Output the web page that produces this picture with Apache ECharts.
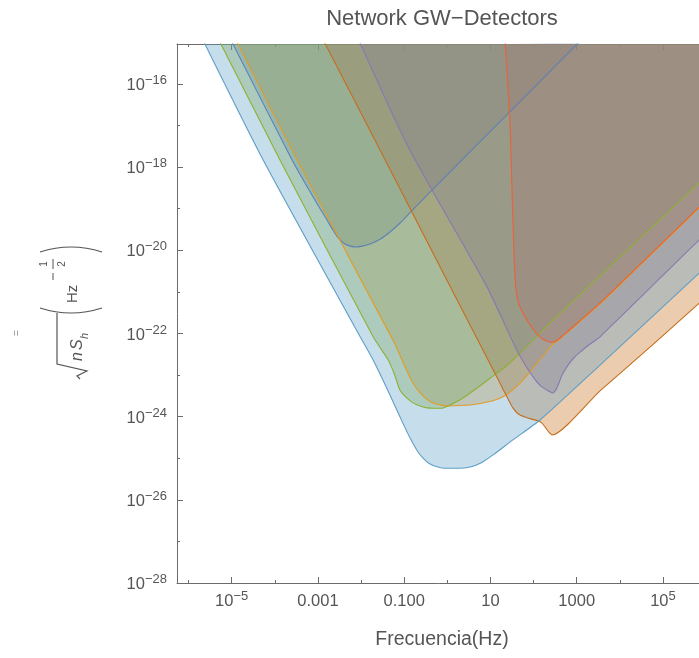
<!DOCTYPE html>
<html>
<head>
<meta charset="utf-8">
<script src="https://cdn.jsdelivr.net/npm/echarts@6/dist/echarts.min.js"></script>
<style>
  html, body { margin: 0; padding: 0; background: #ffffff; }
  #chart { width: 699px; height: 658px; }
</style>
</head>
<body>
<div id="chart"></div>
<script>
// Sensitivity curves, stored as [log10 f (Hz), log10 sqrt(n S_h) (Hz^-1/2)]
const curveBlue = [
  [-4.99, -15.0], [-3.60, -17.83], [-3.18, -18.60], [-2.95, -19.00], [-2.79, -19.27],
  [-2.66, -19.50], [-2.56, -19.66], [-2.46, -19.78], [-2.37, -19.85], [-2.25, -19.90],
  [-2.14, -19.92], [-1.97, -19.90], [-1.79, -19.85], [-1.55, -19.73], [-1.33, -19.56],
  [-1.10, -19.35], [-0.87, -19.10], [-0.17, -18.36], [1.45, -16.67], [3.05, -15.0]
];
const curveOrange = [
  [-4.87, -15.0], [-3.48, -17.83], [-1.26, -22.16], [-1.05, -22.64], [-0.87, -23.05],
  [-0.74, -23.28], [-0.63, -23.43], [-0.48, -23.58], [-0.33, -23.67], [-0.16, -23.72],
  [0.00, -23.74], [0.53, -23.72], [1.06, -23.62], [1.33, -23.50], [1.57, -23.31],
  [1.80, -23.07], [1.99, -22.83], [2.20, -22.56], [2.38, -22.33], [2.52, -22.20],
  [2.78, -21.98], [3.54, -21.29], [4.31, -20.52], [5.84, -18.98], [6.20, -18.62]
];
const curveGreen = [
  [-5.27, -15.0], [-3.88, -17.83], [-1.72, -22.08], [-1.37, -22.64], [-1.22, -23.00],
  [-1.10, -23.36], [-0.96, -23.53], [-0.82, -23.65], [-0.65, -23.74], [-0.47, -23.79],
  [-0.28, -23.80], [-0.10, -23.79], [0.20, -23.65], [0.53, -23.43], [1.00, -23.07],
  [1.45, -22.71], [2.45, -21.68], [5.84, -18.38], [6.20, -18.03]
];
const curveRed = [
  [1.34, -15.0], [1.45, -16.87], [1.50, -18.55], [1.55, -20.23], [1.58, -20.80],
  [1.61, -21.10], [1.66, -21.30], [1.75, -21.50], [1.87, -21.72], [2.00, -21.91],
  [2.10, -22.04], [2.22, -22.14], [2.34, -22.20], [2.43, -22.21], [2.52, -22.18],
  [2.65, -22.08], [2.78, -21.96], [3.54, -21.27], [4.31, -20.50], [5.84, -18.96],
  [6.20, -18.60]
];
const curvePurple = [
  [-2.03, -15.0], [-0.87, -17.59], [0.92, -20.88], [1.61, -22.40], [1.85, -22.83],
  [2.08, -23.17], [2.20, -23.29], [2.31, -23.36], [2.39, -23.41], [2.45, -23.43],
  [2.50, -23.38], [2.54, -23.31], [2.60, -23.16], [2.66, -23.00], [2.75, -22.84],
  [2.85, -22.69], [2.96, -22.56], [3.08, -22.45], [3.30, -22.26], [3.54, -22.08],
  [5.84, -19.75], [6.20, -19.40]
];
const curveBrown = [
  [-2.85, -15.0], [-1.56, -17.59], [0.06, -20.86], [1.22, -23.19], [1.31, -23.38],
  [1.40, -23.56], [1.52, -23.79], [1.64, -23.93], [1.80, -24.01], [1.96, -24.06],
  [2.10, -24.10], [2.20, -24.16], [2.28, -24.27], [2.36, -24.38], [2.43, -24.44],
  [3.54, -23.38], [4.70, -22.33], [5.84, -21.27], [6.20, -20.94]
];
const curveLightBlue = [
  [-5.64, -15.0], [-4.27, -17.83], [-2.07, -21.99], [-1.72, -22.64], [-1.33, -23.48],
  [-0.98, -24.27], [-0.82, -24.60], [-0.68, -24.85], [-0.54, -25.02], [-0.40, -25.14],
  [-0.22, -25.21], [-0.05, -25.24], [0.25, -25.24], [0.53, -25.21], [0.80, -25.10],
  [1.06, -24.92], [1.52, -24.56], [2.15, -24.08], [3.54, -22.76], [5.84, -20.55],
  [6.20, -20.20]
];

const curves = [curveBlue, curveOrange, curveGreen, curveRed, curvePurple, curveBrown, curveLightBlue];
const curveColors = ['#5E81B5', '#E19C24', '#8FB032', '#EB6235', '#8778B3', '#C56E1A', '#5D9EC7'];

// Axis ticks (exponents) and their labels
const xMajorTicks = [-5, -3, -1, 1, 3, 5];
const xMajorLabels = ['10^\u22125', '0.001', '0.100', '10', '1000', '10^5'];
const xMinorTicks = [-6, -4, -2, 0, 2, 4, 6];
const yMajorTicks = [-28, -26, -24, -22, -20, -18, -16];
const yMajorLabels = ['10^\u221228', '10^\u221226', '10^\u221224', '10^\u221222', '10^\u221220', '10^\u221218', '10^\u221216'];
const yMinorTicks = [-27, -25, -23, -21, -19, -17, -15];

const X_MIN = -6.268, X_MAX = 6.16;
const Y_MIN = -28, Y_MAX = -15.04;

const FONT = '"Liberation Sans", Arial, sans-serif';
const TEXT_COLOR = '#555555';
const FRAME_COLOR = '#6b6b6b';

function toRich(s) {
  const k = s.indexOf('^');
  if (k < 0) return '{b|' + s + '}';
  return '{b|' + s.slice(0, k) + '}{s|' + s.slice(k + 1) + '}';
}
function labelFor(ticks, labels) {
  return function (v) {
    for (let i = 0; i < ticks.length; i++) {
      if (Math.abs(ticks[i] - v) < 1e-6) return toRich(labels[i]);
    }
    return '';
  };
}
const richStyles = {
  b: { fontSize: 16.5, fontFamily: FONT, color: TEXT_COLOR, lineHeight: 20, verticalAlign: 'bottom' },
  s: { fontSize: 13, fontFamily: FONT, color: TEXT_COLOR, lineHeight: 13, verticalAlign: 'top' }
};

function xAxisDef(position, ticks, len, showLine, showLabel) {
  return {
    type: 'value', position: position, min: X_MIN, max: X_MAX,
    axisLine: { show: showLine, onZero: false, lineStyle: { color: FRAME_COLOR, width: 1 } },
    axisTick: { show: true, inside: true, length: len, customValues: ticks, lineStyle: { color: FRAME_COLOR, width: 1 } },
    axisLabel: showLabel ? {
      show: true, customValues: xMajorTicks, margin: 7,
      formatter: labelFor(xMajorTicks, xMajorLabels), rich: richStyles
    } : { show: false },
    splitLine: { show: false }
  };
}
function yAxisDef(ticks, len, showLine, showLabel) {
  return {
    type: 'value', position: 'left', min: Y_MIN, max: Y_MAX,
    axisLine: { show: showLine, onZero: false, lineStyle: { color: FRAME_COLOR, width: 1 } },
    axisTick: { show: true, inside: true, length: len, customValues: ticks, lineStyle: { color: FRAME_COLOR, width: 1 } },
    axisLabel: showLabel ? {
      show: true, customValues: yMajorTicks, margin: 10,
      formatter: labelFor(yMajorTicks, yMajorLabels), rich: richStyles
    } : { show: false },
    splitLine: { show: false }
  };
}

const series = curves.map(function (data, i) {
  return {
    type: 'line',
    xAxisIndex: 0, yAxisIndex: 0,
    data: data,
    symbol: 'none',
    smooth: 0.2,
    clip: true,
    silent: true,
    lineStyle: { color: curveColors[i], width: 1.1 },
    areaStyle: { color: curveColors[i], opacity: 0.35, origin: 'end' }
  };
});

// Rotated y-axis title: sqrt(n S_h) (Hz^-1/2)
const yTitle = {
  type: 'group', x: 80, y: 315, rotation: Math.PI / 2, silent: true,
  children: [
    { type: 'polyline', shape: { points: [[-64, 0], [-61, -3], [-56, 7], [-49, -23], [2, -23]] },
      style: { stroke: TEXT_COLOR, lineWidth: 1.2, fill: null } },
    { type: 'text', x: -46, y: -2, style: { text: 'n', font: 'italic 16px ' + FONT, fill: TEXT_COLOR, align: 'left', verticalAlign: 'middle' } },
    { type: 'text', x: -35, y: -2, style: { text: 'S', font: 'italic 16px ' + FONT, fill: TEXT_COLOR, align: 'left', verticalAlign: 'middle' } },
    { type: 'text', x: -24, y: 5, style: { text: 'h', font: 'italic 11px ' + FONT, fill: TEXT_COLOR, align: 'left', verticalAlign: 'middle' } },
    { type: 'bezierCurve', shape: { x1: 7, y1: -40, x2: 7, y2: 22, cpx1: -3, cpy1: -9 },
      style: { stroke: TEXT_COLOR, lineWidth: 1.2, fill: null } },
    { type: 'text', x: 12, y: -7, style: { text: 'Hz', font: '15px ' + FONT, fill: TEXT_COLOR, align: 'left', verticalAlign: 'middle' } },
    { type: 'line', shape: { x1: 35, y1: -27, x2: 42, y2: -27 }, style: { stroke: TEXT_COLOR, lineWidth: 1 } },
    { type: 'text', x: 51, y: -36, style: { text: '1', font: '10px ' + FONT, fill: TEXT_COLOR, align: 'center', verticalAlign: 'middle' } },
    { type: 'line', shape: { x1: 46, y1: -27, x2: 56, y2: -27 }, style: { stroke: TEXT_COLOR, lineWidth: 1 } },
    { type: 'text', x: 51, y: -18, style: { text: '2', font: '10px ' + FONT, fill: TEXT_COLOR, align: 'center', verticalAlign: 'middle' } },
    { type: 'bezierCurve', shape: { x1: 63, y1: -40, x2: 63, y2: 22, cpx1: 73, cpy1: -9 },
      style: { stroke: TEXT_COLOR, lineWidth: 1.2, fill: null } },
    { type: 'text', x: -18, y: -63, style: { text: '=', font: '10px ' + FONT, fill: '#8a8a8a', align: 'center', verticalAlign: 'middle' } }
  ]
};

const chart = echarts.init(document.getElementById('chart'), null, { renderer: 'canvas' });
chart.setOption({
  animation: false,
  backgroundColor: '#ffffff',
  grid: { left: 177, top: 44, width: 536, height: 539, containLabel: false, outerBoundsMode: 'none' },
  xAxis: [
    xAxisDef('bottom', xMajorTicks, 6, true, true),
    xAxisDef('bottom', xMinorTicks, 3, false, false),
    xAxisDef('top', xMajorTicks, 6, true, false),
    xAxisDef('top', xMinorTicks, 3, false, false)
  ],
  yAxis: [
    yAxisDef(yMajorTicks, 6, true, true),
    yAxisDef(yMinorTicks, 3, false, false)
  ],
  series: series,
  graphic: [
    { type: 'text', x: 442, y: 19, silent: true,
      style: { text: 'Network GW\u2212Detectors', font: '22px ' + FONT, fill: TEXT_COLOR, align: 'center', verticalAlign: 'middle' } },
    { type: 'text', x: 442, y: 640, silent: true,
      style: { text: 'Frecuencia(Hz)', font: '19.5px ' + FONT, fill: TEXT_COLOR, align: 'center', verticalAlign: 'middle' } },
    yTitle
  ]
});
</script>
</body>
</html>
